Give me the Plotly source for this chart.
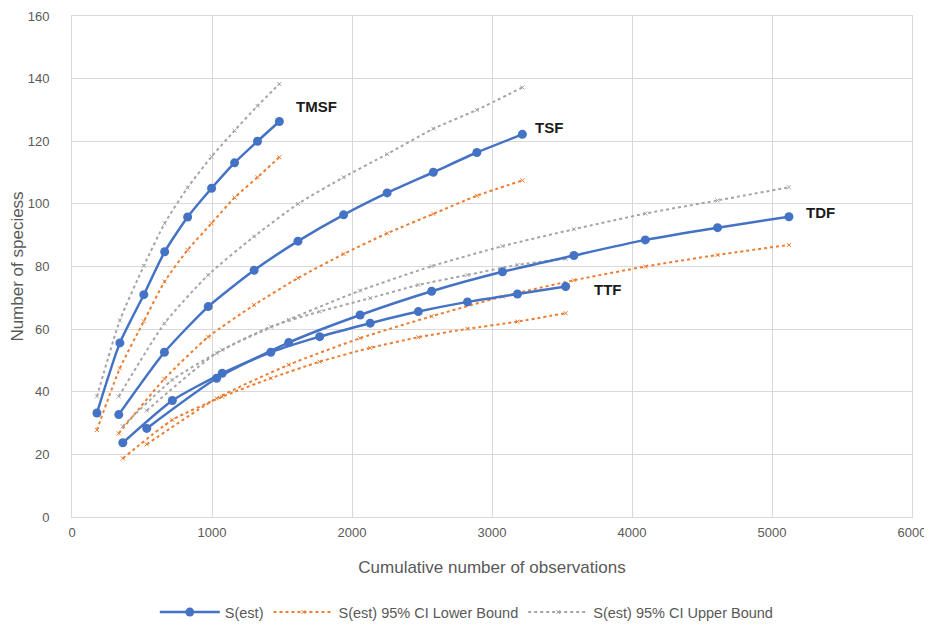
import plotly.graph_objects as go

# ---- data ----
sites = ["TMSF", "TSF", "TDF", "TTF"]

tmsf_x = [178, 342, 513, 662, 826, 997, 1161, 1325, 1481]
tmsf_s = [33.2, 55.6, 71.0, 84.7, 95.8, 105.0, 113.1, 120.0, 126.3]
tmsf_lo = [27.8, 47.5, 62.5, 75.2, 85.3, 93.8, 102.0, 108.5, 114.9]
tmsf_hi = [38.5, 62.8, 80.2, 93.8, 105.2, 115.1, 123.4, 131.3, 138.3]

tsf_x = [334, 660, 973, 1301, 1614, 1940, 2251, 2581, 2892, 3217]
tsf_s = [32.7, 52.6, 67.2, 78.8, 88.1, 96.5, 103.5, 110.1, 116.4, 122.2]
tsf_lo = [26.7, 44.1, 57.5, 67.7, 76.3, 84.0, 90.6, 96.8, 102.6, 107.5]
tsf_hi = [38.5, 61.8, 77.3, 89.6, 100.0, 108.5, 115.9, 124.0, 130.0, 137.2]

tdf_x = [534, 1033, 1548, 2058, 2569, 3075, 3585, 4095, 4611, 5121]
tdf_s = [28.3, 44.3, 55.7, 64.5, 72.1, 78.3, 83.5, 88.5, 92.4, 95.9]
tdf_lo = [23.2, 37.9, 48.6, 57.1, 64.1, 70.4, 75.6, 80.0, 83.7, 86.9]
tdf_hi = [34.0, 52.3, 63.0, 72.3, 80.1, 86.5, 91.9, 96.9, 101.1, 105.3]

ttf_x = [363, 717, 1073, 1420, 1769, 2130, 2474, 2825, 3182, 3526]
ttf_s = [23.7, 37.2, 45.9, 52.6, 57.6, 61.9, 65.6, 68.7, 71.2, 73.6]
ttf_lo = [18.7, 31.0, 38.4, 44.3, 49.6, 54.0, 57.4, 60.1, 62.4, 65.1]
ttf_hi = [29.0, 43.8, 53.4, 60.8, 65.6, 69.9, 74.1, 77.3, 80.5, 82.5]

label_x = [1745, 3405, 5349, 3825]
label_y = [131, 124.3, 97.1, 72.8]

series_names = ["S(est)", "S(est) 95% CI Lower Bound", "S(est) 95% CI Upper Bound"]

BLUE = "#4472C4"
ORANGE = "#ED7D31"
GRAY = "#A5A5A5"
FONT = "Liberation Sans, Arial, sans-serif"

groups = [
    (tmsf_x, tmsf_s, tmsf_lo, tmsf_hi),
    (tsf_x, tsf_s, tsf_lo, tsf_hi),
    (tdf_x, tdf_s, tdf_lo, tdf_hi),
    (ttf_x, ttf_s, ttf_lo, ttf_hi),
]

fig = go.Figure()
for i, (x, s, lo, hi) in enumerate(groups):
    first = i == 0
    fig.add_trace(go.Scatter(
        x=x, y=hi, mode="lines+markers", name=series_names[2],
        legendgroup="hi", showlegend=first, legendrank=3,
        line=dict(color=GRAY, width=2, dash="dot", shape="spline", smoothing=0.6),
        marker=dict(symbol="x-thin", size=4, line=dict(color=GRAY, width=1), color=GRAY),
    ))
    fig.add_trace(go.Scatter(
        x=x, y=lo, mode="lines+markers", name=series_names[1],
        legendgroup="lo", showlegend=first, legendrank=2,
        line=dict(color=ORANGE, width=2, dash="dot", shape="spline", smoothing=0.6),
        marker=dict(symbol="x-thin", size=4, line=dict(color=ORANGE, width=1), color=ORANGE),
    ))
for i, (x, s, lo, hi) in enumerate(groups):
    fig.add_trace(go.Scatter(
        x=x, y=s, mode="lines+markers", name=series_names[0],
        legendgroup="s", showlegend=(i == 0), legendrank=1,
        line=dict(color=BLUE, width=2.5, shape="spline", smoothing=0.6),
        marker=dict(symbol="circle", size=9, color=BLUE),
    ))

for name, lx, ly in zip(sites, label_x, label_y):
    fig.add_annotation(x=lx, y=ly, text="<b>%s</b>" % name, showarrow=False,
                       font=dict(family="Liberation Sans, Arial, sans-serif", size=15, color="#1a1a1a"))

# the page body adds an 8 px offset, so the figure is sized to fit inside the window
fig.update_layout(
    width=924, height=618,
    margin=dict(l=64, r=20, t=8, b=109, autoexpand=False),
    paper_bgcolor="white", plot_bgcolor="white",
    font=dict(family=FONT, size=12, color="#595959"),
    legend=dict(orientation="h", x=0.47, xanchor="center", y=-0.19, yanchor="middle",
                font=dict(size=14.5, color="#595959"), itemwidth=60, traceorder="normal"),
    xaxis=dict(range=[0, 6000], dtick=1000, showgrid=True, gridcolor="#D9D9D9", gridwidth=1,
               zeroline=False, showline=True, linecolor="#D9D9D9", mirror=True, automargin=False,
               ticks="", ticklabelstandoff=3, tickfont=dict(size=13, color="#595959"),
               title=dict(text="Cumulative number of observations", font=dict(size=17, color="#595959"), standoff=22)),
    yaxis=dict(range=[0, 160], dtick=20, showgrid=True, gridcolor="#D9D9D9", gridwidth=1,
               zeroline=False, showline=True, linecolor="#D9D9D9", mirror=True, automargin=False,
               ticks="", ticklabelstandoff=19, tickfont=dict(size=13, color="#595959"),
               title=dict(text="Number of speciess", font=dict(size=17, color="#595959"), standoff=8)),
)

fig.write_html("out.html")
